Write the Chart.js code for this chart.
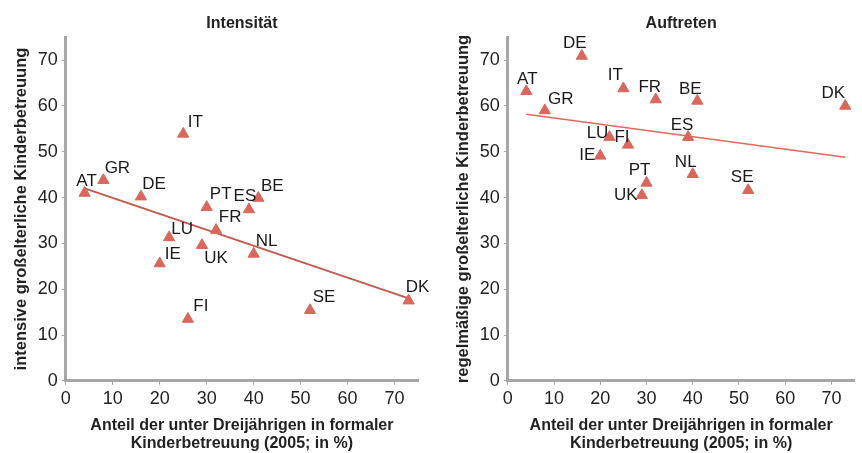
<!DOCTYPE html>
<html>
<head>
<meta charset="utf-8">
<script src="https://cdn.jsdelivr.net/npm/chart.js@4/dist/chart.umd.min.js"></script>
<style>
  body { margin: 0; background: #fff; }
  .wrap { position: absolute; top: 0; width: 431px; height: 453px; }
  #left { left: 0; }
  #right { left: 431px; }
</style>
</head>
<body>
<div class="wrap" id="left"><canvas id="chartIntensitaet"></canvas></div>
<div class="wrap" id="right"><canvas id="chartAuftreten"></canvas></div>
<script>
// countries and shared x values (share of under-3s in formal childcare, 2005)
const countries = ['AT', 'GR', 'DE', 'IT', 'PT', 'ES', 'BE', 'FR', 'LU', 'UK', 'NL', 'IE', 'FI', 'SE', 'DK'];
const anteilFormal = [4, 8, 16, 25, 30, 39, 41, 32, 22, 29, 40, 20, 26, 52, 73];

// y values
const intensitaet = [41, 43.8, 40.2, 53.9, 37.9, 37.4, 39.9, 32.9, 31.3, 29.6, 27.7, 25.6, 13.5, 15.4, 17.5];
const auftreten = [63.2, 59, 70.9, 63.8, 43.2, 53.2, 61.1, 61.4, 53.2, 40.5, 45.1, 49.1, 51.5, 41.6, 60];

// trend line end points
const trendX = [4, 73];
const trendIntensitaet = [42, 18];
const trendAuftreten = [58.2, 48.8];

const yTicks = [0, 10, 20, 30, 40, 50, 60, 70];

// label offsets in px from the marker (label centre)
const labelOffsetsLeft = {
    AT: [2, -12], GR: [14, -12], DE: [13, -12], IT: [12, -12], PT: [14, -13], ES: [-4, -13],
    BE: [14, -12], FR: [14, -13], LU: [13, -8], UK: [14, 13], NL: [13, -13], IE: [13, -9],
    FI: [13, -13], SE: [14, -13], DK: [9, -13]
};
const labelOffsetsRight = {
    AT: [1, -12], GR: [16, -11], DE: [-7, -13], IT: [-8, -13], PT: [-7, -13], ES: [-6, -12],
    BE: [-7, -12], FR: [-6, -12], LU: [-12, -4], UK: [-16, 0], NL: [-7, -12], IE: [-13, -1],
    FI: [-6, -8], SE: [-6, -13], DK: [-12, -13]
};

const FONT = "'Liberation Sans', Arial, sans-serif";
const AXIS_GREY = '#A6A6A6';
const MARKER = '#D9675C';

const pointLabels = {
    id: 'pointLabels',
    afterDatasetsDraw(chart, args, opts) {
        const ctx = chart.ctx;
        const meta = chart.getDatasetMeta(0);
        ctx.save();
        ctx.font = '17px ' + FONT;
        ctx.fillStyle = '#1a1a1a';
        ctx.textAlign = 'center';
        ctx.textBaseline = 'middle';
        meta.data.forEach((pt, i) => {
            const name = countries[i];
            const off = opts.offsets[name] || [10, -12];
            ctx.fillText(name, pt.x + off[0], pt.y + off[1]);
        });
        ctx.restore();
    }
};

function makeChart(id, title, yTitle, yValues, trendY, trendColor, trendWidth, offsets, pad) {
    const ctx = document.getElementById(id).getContext('2d');
    return new Chart(ctx, {
        type: 'scatter',
        data: {
            datasets: [{
                data: anteilFormal.map((x, i) => ({ x: x, y: yValues[i] })),
                pointStyle: 'triangle',
                pointRadius: 6.5,
                pointHoverRadius: 6.5,
                backgroundColor: MARKER,
                borderColor: MARKER,
                borderWidth: 1
            }, {
                data: trendX.map((x, i) => ({ x: x, y: trendY[i] })),
                showLine: true,
                pointRadius: 0,
                borderColor: trendColor,
                borderWidth: trendWidth,
                fill: false
            }]
        },
        options: {
            responsive: true,
            maintainAspectRatio: false,
            animation: false,
            layout: { padding: pad },
            scales: {
                x: {
                    type: 'linear',
                    min: 0,
                    max: 75,
                    afterBuildTicks: (axis) => {
                        axis.ticks = yTicks.map(v => ({ value: v }));
                    },
                    ticks: { color: '#222', font: { size: 18, family: FONT }, padding: 3 },
                    grid: { drawOnChartArea: false, drawTicks: true, tickLength: 4, color: AXIS_GREY, lineWidth: 1 },
                    border: { color: AXIS_GREY, width: 3 },
                    title: {
                        display: true,
                        text: ['Anteil der unter Dreijährigen in formaler', 'Kinderbetreuung (2005; in %)'],
                        color: '#222',
                        font: { size: 16, weight: 'bold', family: FONT, lineHeight: 1.08 },
                        padding: { top: 5, bottom: 0 }
                    }
                },
                y: {
                    min: 0,
                    max: 75,
                    afterBuildTicks: (axis) => {
                        axis.ticks = yTicks.map(v => ({ value: v }));
                    },
                    ticks: { color: '#222', font: { size: 18, family: FONT }, padding: 4 },
                    grid: { drawOnChartArea: false, drawTicks: true, tickLength: 4, color: AXIS_GREY, lineWidth: 1 },
                    border: { color: AXIS_GREY, width: 3 },
                    title: {
                        display: true,
                        text: yTitle,
                        color: '#222',
                        font: { size: 16.5, weight: 'bold', family: FONT },
                        padding: { top: 0, bottom: 2 }
                    }
                }
            },
            plugins: {
                legend: { display: false },
                tooltip: { enabled: false },
                title: {
                    display: true,
                    text: title,
                    fullSize: false,
                    color: '#222',
                    font: { size: 16, weight: 'bold', family: FONT },
                    padding: { top: 14, bottom: 4 }
                },
                pointLabels: { offsets: offsets }
            }
        },
        plugins: [pointLabels]
    });
}

makeChart('chartIntensitaet', 'Intensität', 'intensive großelterliche Kinderbetreuung',
    intensitaet, trendIntensitaet, '#BF5A4F', 2, labelOffsetsLeft,
    { left: 12, right: 13, top: 0, bottom: 1 });
makeChart('chartAuftreten', 'Auftreten', 'regelmäßige großelterliche Kinderbetreuung',
    auftreten, trendAuftreten, '#E2685C', 1.5, labelOffsetsRight,
    { left: 23, right: 4, top: 0, bottom: 1 });
</script>
</body>
</html>
